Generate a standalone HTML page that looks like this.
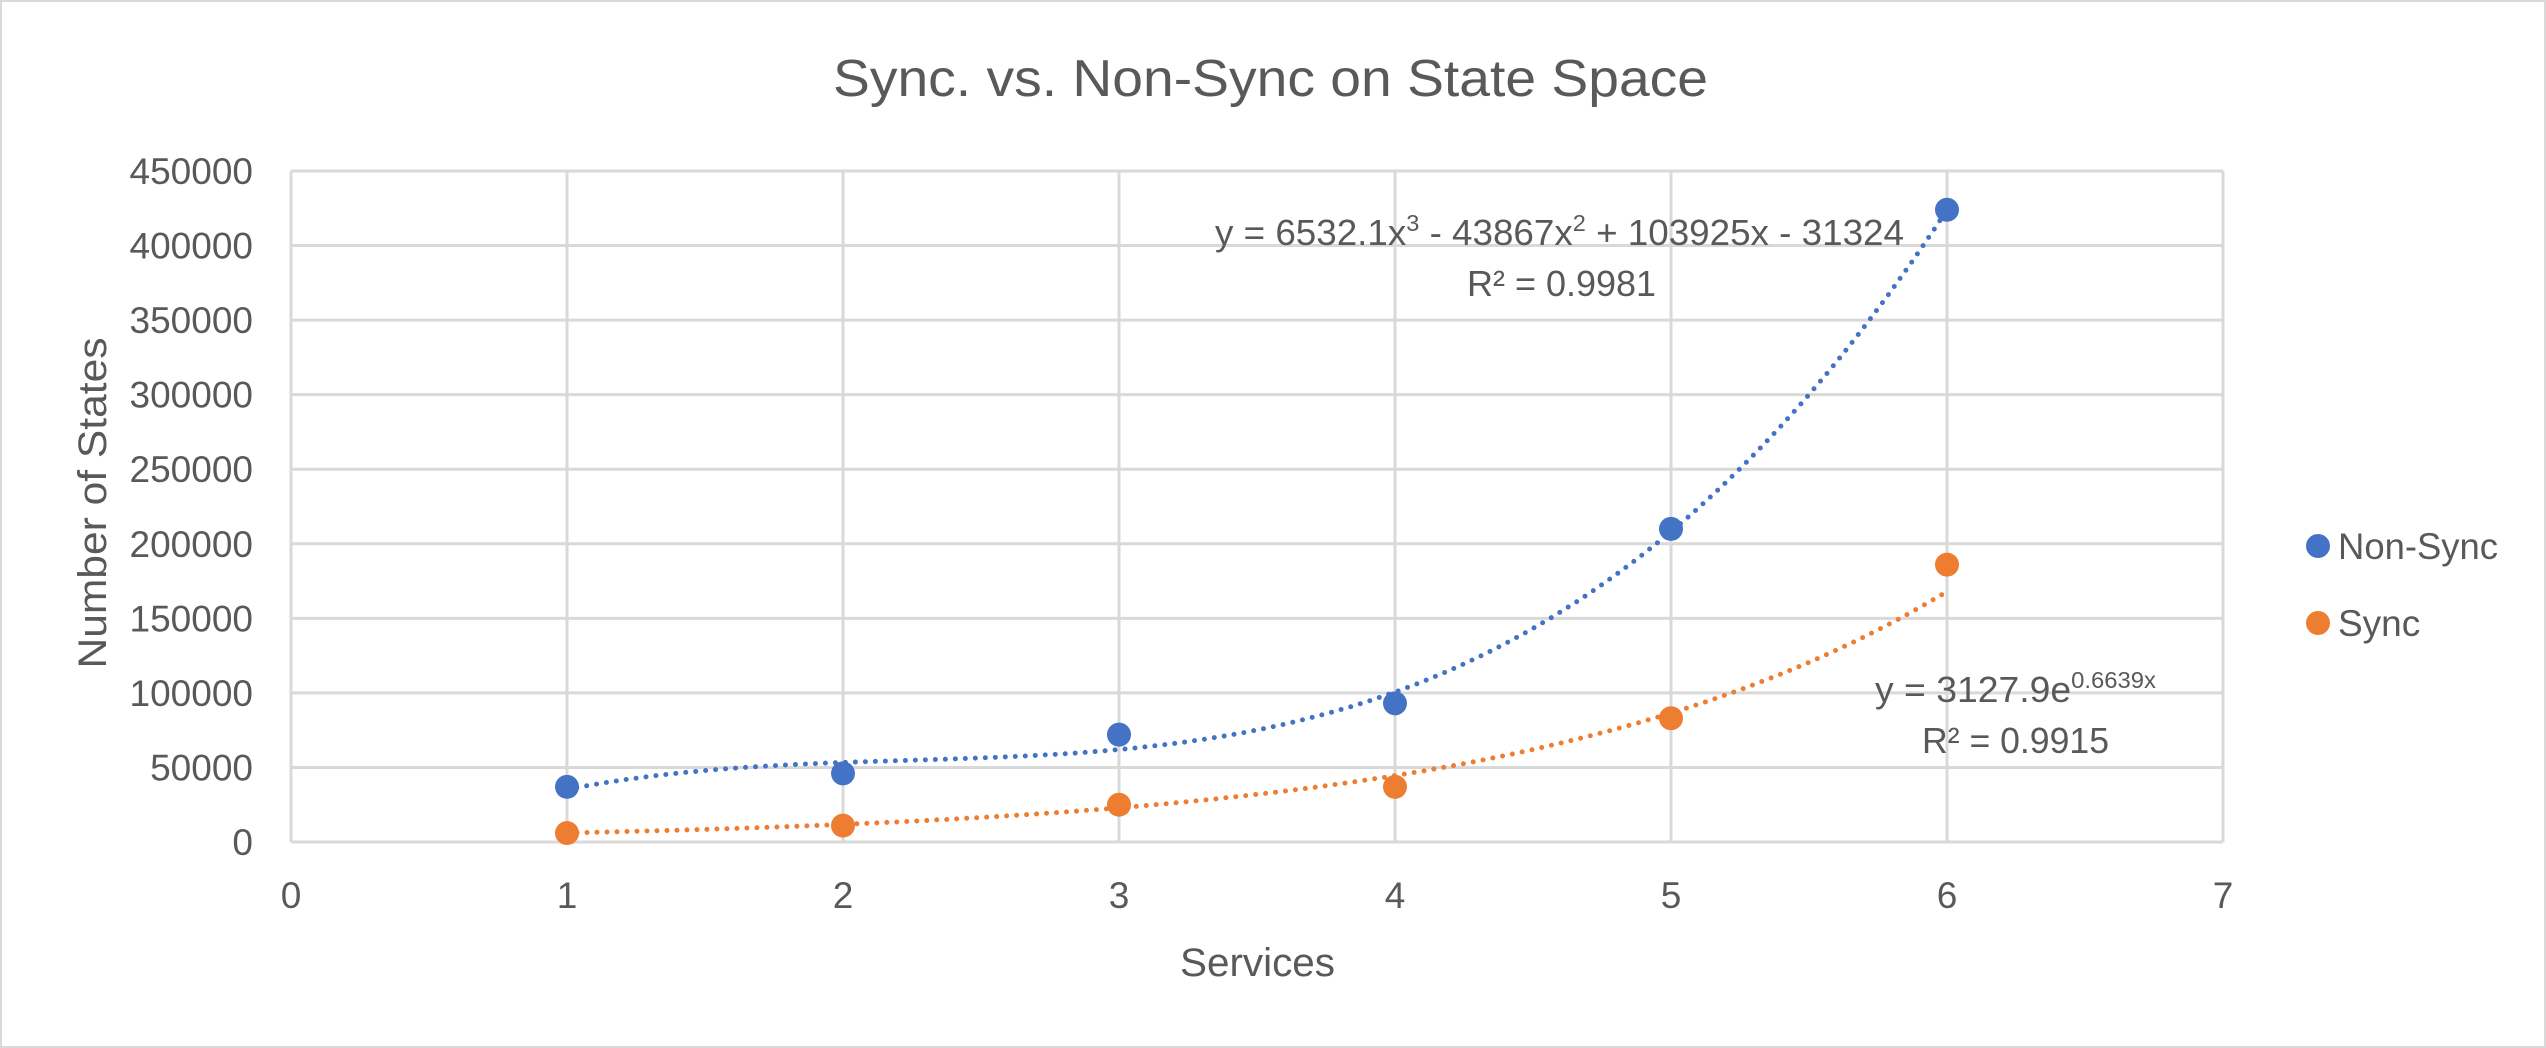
<!DOCTYPE html>
<html><head><meta charset="utf-8"><style>
html,body{margin:0;padding:0;background:#fff}
svg{display:block}
text{font-family:"Liberation Sans",sans-serif;fill:#595959}
</style></head><body>
<svg id="s" width="2546" height="1048" viewBox="0 0 2546 1048" xmlns="http://www.w3.org/2000/svg">
<rect x="1" y="1" width="2544" height="1046" fill="#fff" stroke="#d9d9d9" stroke-width="2"/>
<text x="833" y="96" font-size="52" textLength="875" lengthAdjust="spacingAndGlyphs">Sync. vs. Non-Sync on State Space</text>
<g id="grid" stroke="#d9d9d9" stroke-width="3"></g>
<g id="lab" font-size="37"></g>
<text transform="translate(106,503) rotate(-90)" font-size="40" text-anchor="middle" textLength="331" lengthAdjust="spacingAndGlyphs">Number of States</text>
<text x="1180" y="976" font-size="40" textLength="155" lengthAdjust="spacingAndGlyphs">Services</text>
<path id="p1" fill="none" stroke="#4472c4" stroke-width="5" stroke-linecap="round" stroke-dasharray="0 10"/>
<path id="p2" fill="none" stroke="#ed7d31" stroke-width="5" stroke-linecap="round" stroke-dasharray="0 10"/>
<g id="pts"></g>
<text x="1215" y="245" font-size="36" textLength="689" lengthAdjust="spacingAndGlyphs">y = 6532.1x<tspan font-size="23" dy="-14">3</tspan><tspan dy="14"> - 43867x</tspan><tspan font-size="23" dy="-14">2</tspan><tspan dy="14"> + 103925x - 31324</tspan></text>
<text x="1467" y="296" font-size="36" textLength="189" lengthAdjust="spacingAndGlyphs">R² = 0.9981</text>
<text x="1875" y="702" font-size="36" textLength="281" lengthAdjust="spacingAndGlyphs">y = 3127.9e<tspan font-size="23" dy="-14">0.6639x</tspan></text>
<text x="1922" y="753" font-size="36" textLength="187" lengthAdjust="spacingAndGlyphs">R² = 0.9915</text>
<circle cx="2318" cy="546" r="12" fill="#4472c4"/>
<text x="2338" y="559" font-size="37" textLength="160" lengthAdjust="spacingAndGlyphs">Non-Sync</text>
<circle cx="2318" cy="623" r="12" fill="#ed7d31"/>
<text x="2338" y="636" font-size="37">Sync</text>
</svg>
<script>
var L=291,U=276,B=842,T=171,S=(B-T)/450000;
function X(x){return L+U*x}function Y(v){return B-v*S}
var g=document.getElementById('grid'),lab=document.getElementById('lab'),h='',t='';
for(var i=0;i<=9;i++){var y=Y(i*50000);h+='<line x1="'+L+'" x2="'+X(7)+'" y1="'+y+'" y2="'+y+'"/>';
t+='<text x="253" y="'+(y+13)+'" text-anchor="end">'+(i*50000)+'</text>';}
for(var j=0;j<=7;j++){h+='<line x1="'+X(j)+'" x2="'+X(j)+'" y1="'+T+'" y2="'+B+'"/>';
t+='<text x="'+X(j)+'" y="'+(B+66)+'" text-anchor="middle">'+j+'</text>';}
g.innerHTML=h;lab.innerHTML=t;
function path(f){var d='';for(var x=1;x<=6.0001;x+=0.02){d+=(d?'L':'M')+X(x).toFixed(1)+','+Y(f(x)).toFixed(1);}return d;}
document.getElementById('p1').setAttribute('d',path(function(x){return 6532.1*x*x*x-43867*x*x+103925*x-31324}));
document.getElementById('p2').setAttribute('d',path(function(x){return 3127.9*Math.exp(0.6639*x)}));
var a=[37000,46000,72000,93000,210000,424000],b=[6000,11000,25000,37000,83000,186000],p='';
for(var k=0;k<6;k++){p+='<circle cx="'+X(k+1)+'" cy="'+Y(a[k])+'" r="12" fill="#4472c4"/>';p+='<circle cx="'+X(k+1)+'" cy="'+Y(b[k])+'" r="12" fill="#ed7d31"/>';}
document.getElementById('pts').innerHTML=p;
</script>
</body></html>
